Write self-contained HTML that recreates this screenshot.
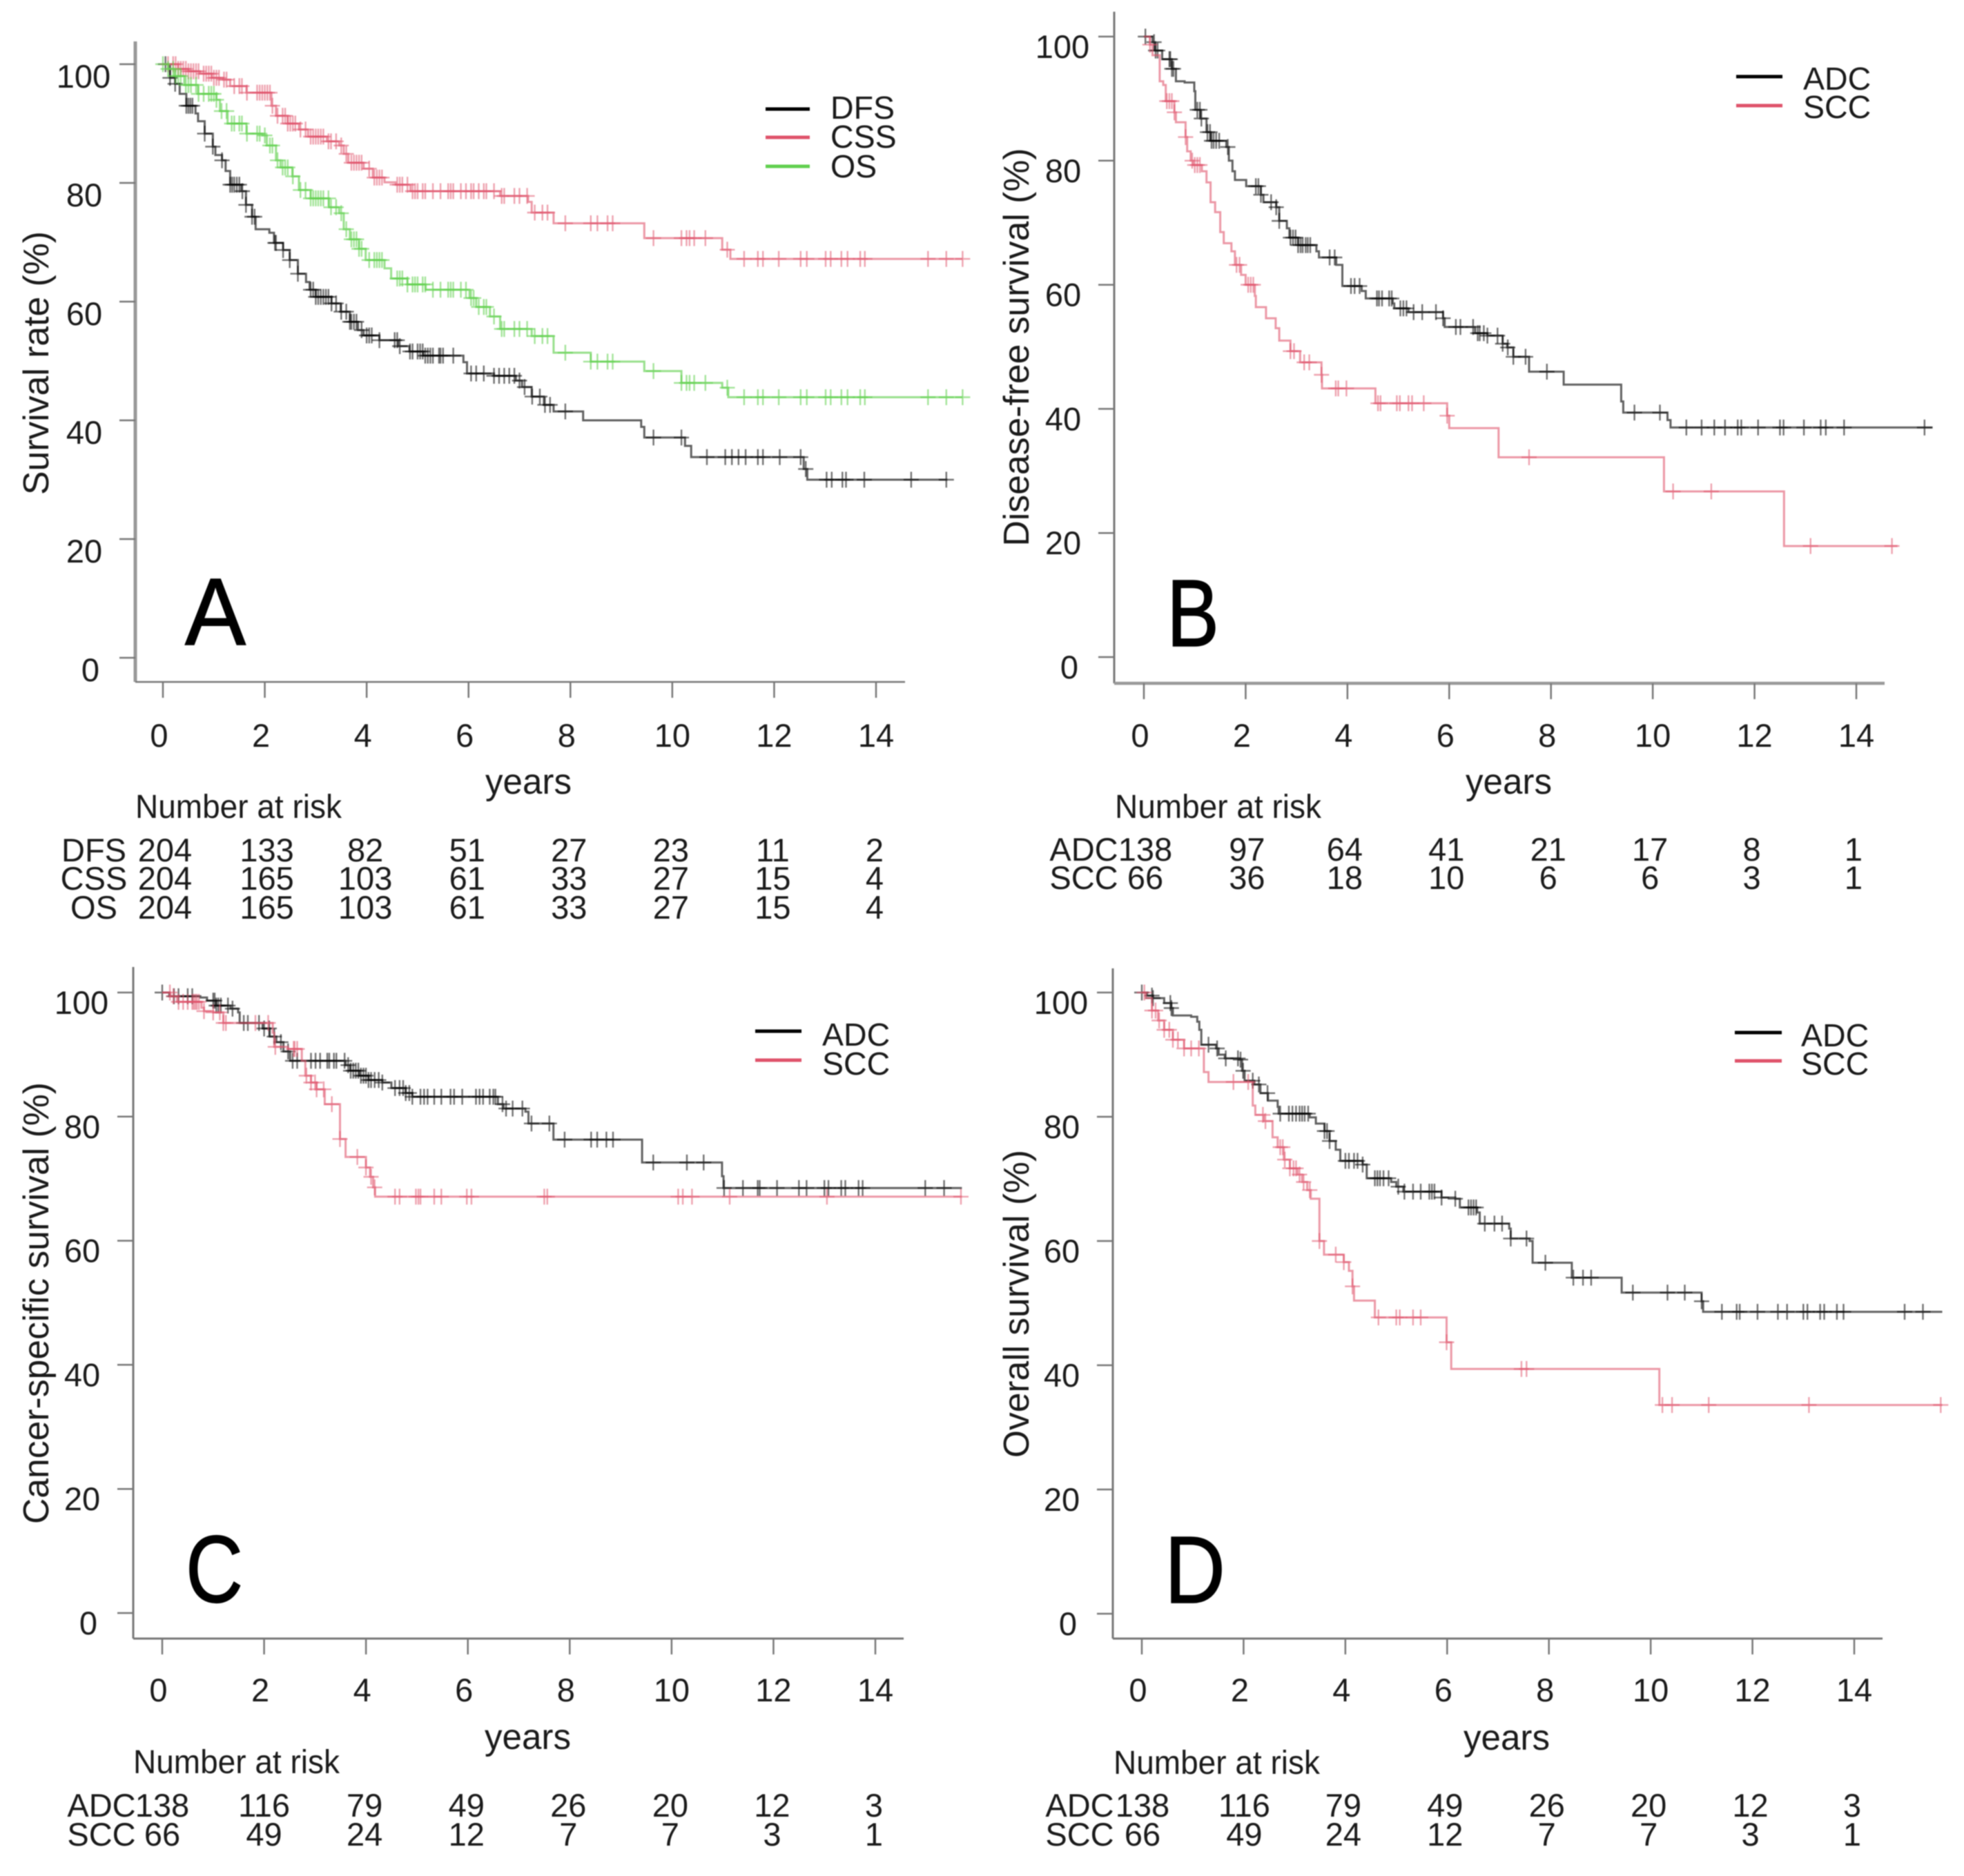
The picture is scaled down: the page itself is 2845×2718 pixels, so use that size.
<!DOCTYPE html>
<html lang="en">
<head>
<meta charset="utf-8">
<title>Kaplan-Meier survival curves</title>
<style>
html,body{margin:0;padding:0;background:#fff;}
svg{display:block;filter:blur(0.7px);}
text{font-family:"Liberation Sans",Arial,sans-serif;fill:#1a1a1a;}
</style>
</head>
<body>
<svg id="figure" xmlns="http://www.w3.org/2000/svg" width="2845" height="2718" viewBox="0 0 2845 2718"></svg>
<script>
const xTickValues = [0, 2, 4, 6, 8, 10, 12, 14];
const yTickValues = [0, 20, 40, 60, 80, 100];

/* Panel A */
const aDfsTimes = [0, .14, .24, .33, .46, .64, .69, .82, .98, 1.03, 1.16, 1.23, 1.32, 1.54, 1.63, 1.75, 1.82, 2.09, 2.18, 2.36, 2.49, 2.65, 2.81, 2.88, 3.0, 3.31, 3.49, 3.67, 3.83, 3.94, 4.25, 4.62, 4.84, 5.11, 5.9, 5.97, 6.5, 6.93, 7.05, 7.24, 7.48, 7.67, 8.25, 9.39, 9.45, 10.25, 10.37, 12.58, 12.65, 15.4];
const aDfsSurv = [100, 97.7, 96.7, 95, 93, 91.7, 90.4, 88.3, 86.1, 84.7, 83.8, 82, 79.7, 78.6, 76.3, 74.3, 72.2, 71.6, 69.9, 68.7, 67, 64.7, 63.3, 62, 60.8, 59.7, 58.3, 56.6, 55.2, 54.3, 53.5, 52.5, 51.6, 50.9, 49.8, 47.9, 47.5, 46.7, 45.6, 44, 42.6, 41.5, 40, 38.9, 37.1, 35.7, 33.8, 31.8, 30, 30];
const aDfsCensor = [.05, .14, .24, .46, .5, .54, .58, .82, .98, 1.16, 1.32, 1.36, 1.4, 1.45, 1.5, 1.56, 1.63, 1.75, 1.8, 2.2, 2.22, 2.36, 2.49, 2.65, 2.9, 2.95, 3, 3.05, 3.1, 3.15, 3.2, 3.25, 3.31, 3.4, 3.5, 3.6, 3.67, 3.7, 3.75, 3.8, 3.9, 4, 4.05, 4.1, 4.25, 4.55, 4.6, 4.65, 4.85, 4.9, 5, 5.05, 5.1, 5.15, 5.2, 5.25, 5.3, 5.42, 5.45, 5.5, 5.7, 6.05, 6.15, 6.3, 6.5, 6.6, 6.7, 6.8, 6.9, 7, 7.1, 7.25, 7.4, 7.5, 7.6, 7.9, 9.63, 10.18, 10.68, 11.04, 11.17, 11.3, 11.44, 11.68, 11.78, 12.11, 12.52, 12.62, 13.03, 13.13, 13.34, 13.41, 13.77, 14.69, 15.38];
const aCssTimes = [0, .3, .5, .73, .96, 1.18, 1.32, 1.64, 2.13, 2.22, 2.45, 2.67, 2.85, 3.22, 3.46, 3.55, 3.64, 3.94, 4.12, 4.35, 4.57, 4.86, 6.62, 7.17, 7.24, 7.67, 9.45, 10.98, 11.14, 15.7];
const aCssSurv = [100, 99.2, 98.8, 98.4, 97.7, 97.4, 96.3, 95.2, 93, 91.3, 90, 89, 87.8, 87, 86.3, 84.9, 83.4, 82.4, 80.9, 80.1, 79.7, 78.6, 77.8, 76.8, 75, 73.2, 70.7, 68.75, 67.2, 67.2];
const aCssCensor = [.1, .2, .25, .3, .35, .4, .45, .5, .55, .6, .65, .7, .8, .85, .9, .95, 1, 1.05, 1.1, 1.2, 1.25, 1.4, 1.5, 1.55, 1.65, 1.85, 1.9, 1.95, 2, 2.05, 2.1, 2.15, 2.25, 2.35, 2.4, 2.45, 2.5, 2.55, 2.6, 2.7, 2.8, 2.9, 2.95, 3, 3.05, 3.1, 3.15, 3.25, 3.3, 3.4, 3.5, 3.6, 3.7, 3.75, 3.8, 3.85, 3.9, 4.05, 4.15, 4.2, 4.25, 4.3, 4.6, 4.65, 4.7, 4.8, 4.9, 4.95, 5, 5.1, 5.15, 5.3, 5.45, 5.6, 5.65, 5.7, 5.85, 5.95, 6.05, 6.1, 6.2, 6.3, 6.35, 6.5, 6.65, 6.7, 6.9, 7, 7.15, 7.3, 7.45, 7.55, 7.9, 8.4, 8.53, 8.73, 8.83, 9.63, 10.18, 10.28, 10.34, 10.43, 10.65, 11.08, 11.41, 11.68, 11.78, 12.09, 12.52, 12.64, 13.01, 13.11, 13.32, 13.44, 13.69, 13.78, 15.02, 15.38, 15.7];
const aOsTimes = [0, .1, .23, .42, .69, 1.05, 1.12, 1.27, 1.64, 1.95, 2.04, 2.22, 2.31, 2.54, 2.67, 2.9, 3.26, 3.46, 3.55, 3.67, 3.85, 3.98, 4.35, 4.48, 4.8, 5.16, 6.02, 6.15, 6.42, 6.62, 7.24, 7.67, 8.4, 9.45, 10.18, 10.98, 11.1, 15.7];
const aOsSurv = [100, 99.2, 98, 96.5, 95, 94, 92.1, 90, 88.3, 88, 86.3, 83.8, 82.6, 81.1, 78.8, 77.4, 75.9, 74.9, 72.2, 70.5, 68.9, 67, 65.6, 63.9, 62.9, 62, 60.6, 59.1, 57.5, 55.4, 54.2, 51.4, 49.9, 48.3, 46.3, 45.5, 43.9, 43.9];
const aOsCensor = [0, .1, .2, .25, .3, .35, .45, .5, .55, .65, .7, .8, .9, .95, 1, 1.05, 1.15, 1.25, 1.35, 1.4, 1.5, 1.55, 1.65, 1.85, 1.9, 2, 2.1, 2.15, 2.25, 2.35, 2.4, 2.45, 2.55, 2.7, 2.8, 2.9, 2.95, 3, 3.05, 3.1, 3.15, 3.25, 3.3, 3.4, 3.5, 3.6, 3.7, 3.75, 3.8, 3.85, 3.9, 4.05, 4.15, 4.2, 4.25, 4.3, 4.6, 4.65, 4.7, 4.8, 4.9, 4.95, 5, 5.1, 5.15, 5.3, 5.45, 5.6, 5.65, 5.7, 5.85, 5.95, 6.05, 6.1, 6.2, 6.3, 6.35, 6.5, 6.65, 6.7, 6.9, 7, 7.15, 7.3, 7.45, 7.55, 7.9, 8.4, 8.53, 8.73, 8.83, 9.63, 10.18, 10.28, 10.34, 10.43, 10.65, 11.08, 11.41, 11.68, 11.78, 12.09, 12.52, 12.64, 13.01, 13.11, 13.32, 13.44, 13.69, 13.78, 15.02, 15.38, 15.7];
const aRiskLabels = ["DFS", "CSS", "OS"];
const aRiskDfs = [204, 133, 82, 51, 27, 23, 11, 2];
const aRiskCss = [204, 165, 103, 61, 33, 27, 15, 4];
const aRiskOs = [204, 165, 103, 61, 33, 27, 15, 4];

/* Panel B */
const bAdcTimes = [0, .17, .22, .36, .55, .63, .8, .99, 1.01, 1.11, 1.23, 1.31, 1.62, 1.67, 1.74, 1.79, 2.01, 2.3, 2.35, 2.6, 2.66, 2.81, 2.86, 3.03, 3.39, 3.44, 3.78, 3.9, 4.28, 4.36, 4.89, 4.92, 5.2, 5.88, 5.91, 6.51, 6.75, 7.05, 7.14, 7.26, 7.57, 8.25, 9.38, 9.42, 10.29, 10.35, 15.5];
const bAdcSurv = [100, 99.1, 97.75, 96.35, 94.8, 92.8, 92.6, 91.2, 88.2, 86.8, 84.6, 83.2, 82.2, 80, 78.3, 76.9, 75.9, 74.5, 73.3, 72.5, 70.3, 69.1, 67.6, 66.4, 65.4, 64.4, 63.2, 59.8, 59, 57.8, 57, 56.2, 55.6, 54.6, 53.2, 52.2, 51.8, 50.5, 49.9, 48.4, 46, 43.9, 41.2, 39.4, 38.2, 37, 37];
const bAdcCensor = [.03, .2, .23, .27, .5, .52, .55, .58, 1.05, 1.1, 1.13, 1.25, 1.3, 1.33, 1.37, 1.42, 1.48, 1.65, 2.2, 2.25, 2.3, 2.5, 2.6, 2.66, 2.88, 2.93, 2.98, 3.03, 3.08, 3.12, 3.18, 3.22, 3.27, 3.65, 3.75, 4.07, 4.14, 4.24, 4.58, 4.62, 4.68, 4.82, 4.87, 5.04, 5.1, 5.16, 5.3, 5.47, 5.74, 5.88, 6.13, 6.22, 6.47, 6.56, 6.6, 6.68, 6.75, 6.95, 7.05, 7.15, 7.26, 7.5, 7.92, 9.64, 10.14, 10.66, 10.96, 11.21, 11.42, 11.67, 11.74, 12.07, 12.5, 12.57, 12.97, 13.3, 13.4, 13.76, 15.34];
const bSccTimes = [0, .12, .17, .31, .38, .43, .6, .63, .82, .85, .92, .97, 1.14, 1.23, 1.31, 1.4, 1.5, 1.57, 1.72, 1.79, 1.91, 2, 2.18, 2.2, 2.4, 2.59, 2.66, 2.88, 3.07, 3.49, 3.5, 4.55, 5.96, 6, 6.97, 10.22, 12.58, 14.81];
const bSccSurv = [100, 98.7, 97, 92.8, 92.2, 89.6, 87.8, 86.2, 83.8, 81.5, 80, 79.3, 78.3, 76.5, 73.3, 71.7, 68.5, 66.7, 65.4, 63.2, 61.6, 60, 58.2, 56.4, 54.6, 53, 51, 49.3, 47.5, 45.5, 43.3, 40.9, 38.9, 36.9, 32.2, 26.7, 17.9, 17.9];
const bSccCensor = [.12, .45, .5, .55, .6, .82, .95, 1, 1.05, 1.1, 1.82, 1.88, 2.05, 2.1, 2.15, 2.88, 2.95, 3.15, 3.25, 3.49, 3.77, 3.82, 3.98, 4.6, 4.65, 4.97, 5.03, 5.2, 5.27, 5.5, 5.96, 7.57, 10.4, 11.15, 13.1, 14.7];
const bRiskLabels = ["ADC", "SCC"];
const bRiskAdc = [138, 97, 64, 41, 21, 17, 8, 1];
const bRiskScc = [66, 36, 18, 10, 6, 6, 3, 1];

/* Panel C */
const cAdcTimes = [0, .14, .75, .88, 1.06, 1.34, 1.49, 1.52, 1.97, 2.11, 2.24, 2.38, 2.51, 3.6, 3.69, 3.87, 4.05, 4.32, 4.5, 4.78, 4.91, 6.59, 6.7, 7.13, 7.19, 7.68, 9.42, 10.99, 11.02, 15.7];
const cAdcSurv = [100, 99.4, 99.2, 98.7, 97.9, 97.4, 96.8, 95.1, 94.2, 92.9, 92, 90.5, 89, 88.3, 87.4, 86.6, 85.9, 85.5, 84.6, 83.8, 83.2, 82, 81.3, 80.8, 78.9, 76.3, 72.6, 70.4, 68.5, 68.5];
const cAdcCensor = [0, .23, .32, .5, .59, 1, 1.03, 1.06, 1.1, 1.15, 1.29, 1.38, 1.6, 1.68, 1.9, 2, 2.1, 2.2, 2.33, 2.47, 2.56, 2.65, 2.92, 3.01, 3.1, 3.24, 3.28, 3.37, 3.42, 3.58, 3.65, 3.7, 3.75, 3.8, 3.85, 3.9, 3.95, 4, 4.05, 4.1, 4.17, 4.25, 4.32, 4.57, 4.66, 4.73, 4.78, 4.85, 4.91, 5.07, 5.14, 5.21, 5.34, 5.48, 5.66, 5.73, 5.89, 6.16, 6.23, 6.3, 6.43, 6.5, 6.54, 6.68, 6.75, 6.88, 7.07, 7.25, 7.6, 7.9, 8.42, 8.54, 8.72, 8.85, 9.64, 10.3, 10.63, 11.03, 11.4, 11.69, 11.73, 12.07, 12.5, 12.65, 13, 13.08, 13.33, 13.41, 13.67, 13.75, 14.98, 15.35];
const cSccTimes = [0, .16, .29, .77, .82, 1, 1.2, 2.17, 2.2, 2.47, 2.74, 2.81, 2.92, 3.03, 3.19, 3.49, 3.6, 4, 4.08, 4.14, 4.18, 15.7];
const cSccSurv = [100, 99.4, 98.5, 97.55, 97, 96.8, 95.1, 93.5, 91.25, 90.9, 89, 86.6, 85.5, 84.4, 82, 76.4, 73.5, 71.8, 70.3, 68.6, 67.1, 67.1];
const cSccCensor = [.15, .22, .32, .41, .5, .59, .62, .65, .68, .72, .82, 1, 1.13, 1.2, 1.25, 1.83, 2.08, 2.22, 2.58, 2.6, 2.65, 2.83, 2.92, 3, 3.03, 3.17, 3.33, 3.49, 3.83, 4, 4.1, 4.17, 4.57, 4.66, 4.98, 5.03, 5.07, 5.34, 5.48, 5.98, 6.07, 7.5, 7.56, 10.13, 10.22, 10.4, 11.14, 13.05, 15.68];
const cRiskLabels = ["ADC", "SCC"];
const cRiskAdc = [138, 116, 79, 49, 26, 20, 12, 3];
const cRiskScc = [66, 49, 24, 12, 7, 7, 3, 1];

/* Panel D */
const dAdcTimes = [0, .1, .22, .44, .58, .61, .97, 1.09, 1.13, 1.17, 1.46, 1.51, 1.63, 1.92, 1.97, 2.02, 2.21, 2.33, 2.48, 2.67, 2.69, 3.3, 3.42, 3.59, 3.69, 3.81, 3.9, 4.34, 4.42, 4.9, 5, 5.14, 5.89, 6.16, 6.25, 6.59, 6.64, 7.22, 7.25, 7.62, 7.68, 8.45, 9.43, 11, 11.03, 15.73];
const dAdcSurv = [100, 99.5, 99.1, 98.3, 97.5, 96.3, 96.1, 95.3, 94, 91.6, 91, 90, 89.4, 89.2, 87.4, 85.8, 85.2, 83.8, 82.6, 81.6, 80.5, 79.9, 78.9, 77.7, 76.1, 74.7, 72.9, 72.3, 70.1, 69.5, 68.75, 67.95, 67, 66.8, 65.4, 64.6, 62.8, 62, 60.4, 60, 56.5, 54.1, 51.7, 50.3, 48.6, 48.6];
const dAdcCensor = [0, .2, .22, .56, .58, 1.31, 1.48, 1.65, 1.89, 1.94, 1.99, 2.18, 2.3, 2.47, 2.72, 2.89, 2.96, 3.03, 3.1, 3.15, 3.2, 3.27, 3.59, 3.64, 3.69, 4, 4.07, 4.17, 4.24, 4.34, 4.58, 4.63, 4.68, 4.75, 4.85, 5.04, 5.16, 5.33, 5.48, 5.65, 5.7, 5.75, 5.89, 6.16, 6.42, 6.47, 6.52, 6.57, 6.74, 6.93, 7.08, 7.25, 7.56, 7.93, 8.48, 8.67, 8.83, 9.65, 10.33, 10.67, 11, 11.4, 11.69, 11.75, 12.1, 12.5, 12.68, 13, 13.08, 13.33, 13.41, 13.66, 13.79, 14.99, 15.35];
const dSccTimes = [0, .08, .2, .32, .44, .61, .83, 1.22, 1.31, 2.18, 2.23, 2.4, 2.57, 2.67, 2.79, 2.91, 3.06, 3.15, 3.25, 3.32, 3.49, 3.58, 3.97, 4.07, 4.14, 4.17, 4.58, 5.99, 6.08, 10.17, 15.73];
const dSccSurv = [100, 99.1, 97.1, 95.5, 94, 92.4, 91, 87.2, 85.6, 81.8, 80.3, 79.3, 76.7, 75.1, 73.1, 71.7, 70.7, 69.5, 68.2, 66.8, 60, 57.8, 56.6, 55.2, 52.7, 50.4, 47.7, 43.7, 39.4, 33.6, 33.6];
const dSccCensor = [.05, .2, .27, .34, .44, .54, .61, .71, .83, .97, 1.12, 1.8, 2.09, 2.38, 2.43, 2.72, 2.77, 2.81, 2.91, 2.98, 3.03, 3.1, 3.18, 3.3, 3.49, 3.81, 3.97, 4.14, 4.65, 5, 5.07, 5.33, 5.48, 5.99, 7.46, 7.56, 10.23, 10.42, 11.14, 13.11, 15.7];
const dRiskLabels = ["ADC", "SCC"];
const dRiskAdc = [138, 116, 79, 49, 26, 20, 12, 3];
const dRiskScc = [66, 49, 24, 12, 7, 7, 3, 1];

const BLACK = "#000000", RED = "#DF536B", GREEN = "#61D04F";
const svg = document.getElementById("figure");
const NS = "http://www.w3.org/2000/svg";

function mk(tag, attrs, parent) {
  const el = document.createElementNS(NS, tag);
  for (const k in attrs) el.setAttribute(k, attrs[k]);
  (parent || svg).appendChild(el);
  return el;
}
function survivalAt(times, surv, t) {
  let v = surv[0];
  for (let i = 0; i < times.length; i++) { if (times[i] <= t) v = surv[i]; else break; }
  return v;
}

function drawPanel(p) {
  const xScale = t => p.x0 + t * (p.x14 - p.x0) / 14;
  const yScale = s => p.y0 - s * (p.y0 - p.y100) / 100;
  const g = mk("g", {});
  
  

  const yAxis = mk("line", {x1: p.axisX, x2: p.axisX, y1: p.axisTop, y2: p.axisBottom, stroke: p.yAxisColor, "stroke-width": p.yAxisWidth}, g);
  
  
  const xAxis = mk("line", {x1: p.axisX, x2: p.axisRight, y1: p.axisBottom, y2: p.axisBottom, stroke: p.xAxisColor, "stroke-width": p.xAxisWidth}, g);
  
  

  xTickValues.forEach(v => {
    const tick = mk("line", {x1: xScale(v), x2: xScale(v), y1: p.axisBottom, y2: p.axisBottom + 23, stroke: "#777", "stroke-width": 2.5}, g);
    
    
    const lab = mk("text", {x: xScale(v) + (v < 10 ? -5.5 : 0), y: p.xLabelY, "font-size": 47, "text-anchor": "middle"}, g);
    
    
    lab.textContent = v;
  });
  yTickValues.forEach(v => {
    const tick = mk("line", {x1: p.axisX - 23, x2: p.axisX, y1: yScale(v), y2: yScale(v), stroke: "#777", "stroke-width": 2.5}, g);
    
    
    const lab = mk("text", {x: p.axisX + (v === 100 ? -75 : v === 0 ? -65 : -74), y: yScale(v) + p.yLabelDy, "font-size": 47, "text-anchor": "middle"}, g);
    
    
    lab.textContent = v;
  });

  const title = mk("text", {transform: "translate(" + p.titleX + "," + p.titleCy + ") rotate(-90)", "font-size": 52, "text-anchor": "middle", textLength: p.titleLen, lengthAdjust: "spacingAndGlyphs"}, g);
  
  
  title.textContent = p.title;

  const xTitle = mk("text", {x: p.yearsX, y: p.yearsY, "font-size": 52, textLength: p.yearsLen, lengthAdjust: "spacingAndGlyphs"}, g);
  
  
  xTitle.textContent = "years";

  const risk = mk("text", {x: p.riskTitleX, y: p.riskTitleY, "font-size": 48, textLength: 299, lengthAdjust: "spacingAndGlyphs"}, g);
  
  
  risk.textContent = "Number at risk";

  p.series.forEach(s => {
    let d = "M" + xScale(s.times[0]) + " " + yScale(s.surv[0]);
    for (let i = 1; i < s.times.length; i++) {
      d += "H" + xScale(s.times[i]).toFixed(1) + "V" + yScale(s.surv[i]).toFixed(1);
    }
    const curve = mk("path", {d: d, fill: "none", stroke: s.color, "stroke-width": 3, "stroke-opacity": s.alpha}, g);
    
    
    s.censor.forEach(t => {
      const cx = xScale(t), cy = yScale(survivalAt(s.times, s.surv, t));
      const mark = mk("path", {d: "M" + (cx - 11).toFixed(1) + " " + cy.toFixed(1) + "h22M" + cx.toFixed(1) + " " + (cy - 11.5).toFixed(1) + "v23", fill: "none", stroke: s.color, "stroke-width": 2.4, "stroke-opacity": s.alpha * 0.9}, g);
      
      
    });
  });

  p.series.forEach((s, i) => {
    const ln = mk("line", {x1: p.legendX1, x2: p.legendX2, y1: p.legendLineY[i], y2: p.legendLineY[i], stroke: s.color, "stroke-width": 5}, g);
    
    
    const tx = mk("text", {x: p.legendTextX, y: p.legendTextY[i], "font-size": 46.5}, g);
    
    
    tx.textContent = s.label;
  });

  p.series.forEach((s, r) => {
    const lab = mk("text", {x: p.riskLabelX, y: p.riskY[r], "font-size": 47, "text-anchor": "middle"}, g);
    
    
    lab.textContent = p.riskLabels[r];
    s.risk.forEach((n, c) => {
      const cell = mk("text", {x: xScale(xTickValues[c]) + (c < 2 ? p.riskDx : p.riskDxLate), y: p.riskY[r], "font-size": 47, "text-anchor": "middle"}, g);
      
      
      cell.textContent = n;
    });
  });

  const letter = mk("text", {x: p.letterX, y: p.letterY, "font-size": 138, textLength: p.letterLen, lengthAdjust: "spacingAndGlyphs", style: "fill:#000;stroke:#000;stroke-width:1.5px"}, g);
  
  
  letter.textContent = p.id;
}

drawPanel({
  id: "A", x0: 236, x14: 1269, y100: 93, y0: 953, axisX: 196, axisTop: 60, axisBottom: 988, axisRight: 1311,
  yAxisWidth: 5, yAxisColor: "#999", xAxisWidth: 2.5, xAxisColor: "#777", yLabelDy: 34,
  xLabelY: 1082, title: "Survival rate (%)", titleX: 70, titleCy: 526, titleLen: 382,
  yearsX: 703, yearsY: 1150, yearsLen: 125, riskTitleX: 196, riskTitleY: 1185,
  legendX1: 1109, legendX2: 1173, legendLineY: [158, 199, 241], legendTextX: 1203, legendTextY: [172, 214, 257],
  riskLabels: aRiskLabels, riskLabelX: 136, riskY: [1248, 1289, 1331], riskDx: 3, riskDxLate: -2,
  letterX: 268, letterY: 934, letterLen: 88,
  series: [
    {name: "dfs", label: "DFS", color: BLACK, alpha: .62, times: aDfsTimes, surv: aDfsSurv, censor: aDfsCensor, risk: aRiskDfs},
    {name: "css", label: "CSS", color: RED, alpha: .6, times: aCssTimes, surv: aCssSurv, censor: aCssCensor, risk: aRiskCss},
    {name: "os", label: "OS", color: GREEN, alpha: .65, times: aOsTimes, surv: aOsSurv, censor: aOsCensor, risk: aRiskOs}
  ]
});
drawPanel({
  id: "B", x0: 1657, x14: 2689, y100: 53, y0: 952, axisX: 1614, axisTop: 17, axisBottom: 990, axisRight: 2730,
  yAxisWidth: 3, yAxisColor: "#777", xAxisWidth: 4.5, xAxisColor: "#999", yLabelDy: 31,
  xLabelY: 1082, title: "Disease-free survival (%)", titleX: 1490, titleCy: 503, titleLen: 577,
  yearsX: 2123, yearsY: 1150, yearsLen: 125, riskTitleX: 1615, riskTitleY: 1185,
  legendX1: 2515, legendX2: 2582, legendLineY: [111, 153], legendTextX: 2612, legendTextY: [130, 171],
  riskLabels: bRiskLabels, riskLabelX: 1570, riskY: [1247, 1288], riskDx: 2, riskDxLate: -4,
  letterX: 1690, letterY: 936, letterLen: 76,
  series: [
    {name: "adc", label: "ADC", color: BLACK, alpha: .62, times: bAdcTimes, surv: bAdcSurv, censor: bAdcCensor, risk: bRiskAdc},
    {name: "scc", label: "SCC", color: RED, alpha: .6, times: bSccTimes, surv: bSccSurv, censor: bSccCensor, risk: bRiskScc}
  ]
});
drawPanel({
  id: "C", x0: 235, x14: 1268, y100: 1438, y0: 2337, axisX: 193, axisTop: 1401, axisBottom: 2374, axisRight: 1309,
  yAxisWidth: 3, yAxisColor: "#777", xAxisWidth: 3, xAxisColor: "#777", yLabelDy: 31,
  xLabelY: 2465, title: "Cancer-specific survival (%)", titleX: 70, titleCy: 1888, titleLen: 640,
  yearsX: 702, yearsY: 2534, yearsLen: 125, riskTitleX: 193, riskTitleY: 2569,
  legendX1: 1094, legendX2: 1161, legendLineY: [1494, 1536], legendTextX: 1191, legendTextY: [1515, 1557],
  riskLabels: cRiskLabels, riskLabelX: 147, riskY: [2632, 2674], riskDx: 0, riskDxLate: -2,
  letterX: 269, letterY: 2321, letterLen: 83,
  series: [
    {name: "adc", label: "ADC", color: BLACK, alpha: .62, times: cAdcTimes, surv: cAdcSurv, censor: cAdcCensor, risk: cRiskAdc},
    {name: "scc", label: "SCC", color: RED, alpha: .6, times: cSccTimes, surv: cSccSurv, censor: cSccCensor, risk: cRiskScc}
  ]
});
drawPanel({
  id: "D", x0: 1654, x14: 2686, y100: 1438, y0: 2338, axisX: 1612, axisTop: 1403, axisBottom: 2374, axisRight: 2727,
  yAxisWidth: 3, yAxisColor: "#777", xAxisWidth: 3, xAxisColor: "#777", yLabelDy: 31,
  xLabelY: 2465, title: "Overall survival (%)", titleX: 1490, titleCy: 1889, titleLen: 446,
  yearsX: 2120, yearsY: 2535, yearsLen: 125, riskTitleX: 1613, riskTitleY: 2570,
  legendX1: 2513, legendX2: 2581, legendLineY: [1496, 1537], legendTextX: 2609, legendTextY: [1516, 1557],
  riskLabels: dRiskLabels, riskLabelX: 1564, riskY: [2632, 2674], riskDx: 1, riskDxLate: -3,
  letterX: 1687, letterY: 2322, letterLen: 88,
  series: [
    {name: "adc", label: "ADC", color: BLACK, alpha: .62, times: dAdcTimes, surv: dAdcSurv, censor: dAdcCensor, risk: dRiskAdc},
    {name: "scc", label: "SCC", color: RED, alpha: .6, times: dSccTimes, surv: dSccSurv, censor: dSccCensor, risk: dRiskScc}
  ]
});
</script>
</body>
</html>
